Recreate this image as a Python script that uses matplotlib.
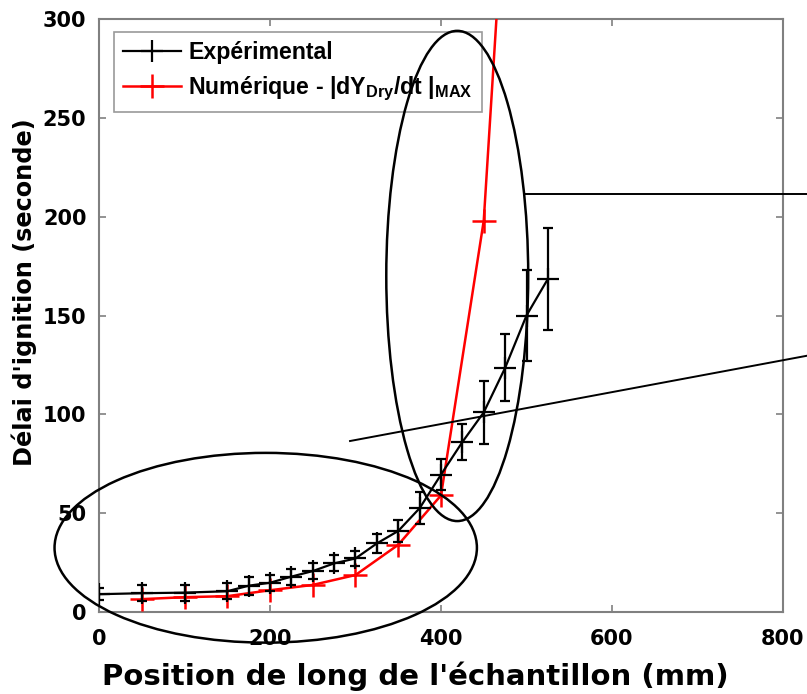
import matplotlib
matplotlib.use("Agg")
import matplotlib.pyplot as plt
from matplotlib.patches import Ellipse

plt.rcParams['font.family'] = ['DejaVu Sans']
plt.rcParams['font.weight'] = 'bold'
plt.rcParams['mathtext.fontset'] = 'custom'
plt.rcParams['mathtext.rm'] = 'Liberation Sans:bold'
plt.rcParams['mathtext.it'] = 'Liberation Sans:bold'
plt.rcParams['mathtext.bf'] = 'Liberation Sans:bold'

# experimental data (position in mm, delay in s, error)
x_exp = [0, 50, 100, 150, 175, 200, 225, 250, 275, 300, 325, 350, 375, 400, 425, 450, 475, 500, 525]
y_exp = [9, 9.5, 9.8, 10.5, 13.3, 14.8, 17.9, 20.7, 24.6, 27.1, 34.7, 41, 52.5, 69.5, 86, 101, 123.5, 150, 168.5]
err_exp = [3, 4, 4, 4, 4.5, 4, 4, 4, 4, 4, 5, 5.5, 8, 8, 9.3, 16, 17, 23, 26]

# numerical data
x_num = [50, 100, 150, 200, 250, 300, 350, 400, 450, 475]
y_num = [6.5, 7.5, 8, 11, 13.7, 18.7, 34, 59, 198, 370]

fig = plt.figure(figsize=(8.07, 6.94), dpi=100)
ax = fig.add_axes([99/807, 1-612/694, 684/807, 593/694])

num_line, = ax.plot(x_num, y_num, color='red', lw=1.8, marker='+', ms=17, mew=1.8, zorder=3)
eb = ax.errorbar(x_exp, y_exp, yerr=err_exp, color='black', lw=1.6, marker='+', ms=16, mew=1.6,
                 capsize=3.6, capthick=1.6, elinewidth=1.6, zorder=4)

ax.set_xlim(0, 800)
ax.set_ylim(0, 300)
ax.set_xticks([0, 200, 400, 600, 800])
ax.set_yticks([0, 50, 100, 150, 200, 250, 300])
for s in ax.spines.values():
    s.set_color('#808080')
    s.set_linewidth(1.5)
ax.tick_params(direction='in', length=5, width=1.2, color='#808080', top=True, right=True,
               labelsize=15)
ax.tick_params(axis='x', pad=12)
ax.tick_params(axis='y', pad=9)
for t in ax.get_xticklabels() + ax.get_yticklabels():
    t.set_fontweight('bold')

ax.set_xlabel("Position de long de l'échantillon (mm)", fontsize=21, fontweight='bold')
ax.xaxis.set_label_coords(0.462, -0.083)
ax.xaxis.label.set_va('top')
ax.set_ylabel("Délai d'ignition (seconde)", fontsize=17.3, fontweight='bold')
ax.yaxis.set_label_coords(-0.09, 0.54)

leg = ax.legend([eb.lines[0], num_line],
                ['Expérimental', r'Numérique - |dY$_{\mathrm{Dry}}$/dt |$_{\mathrm{MAX}}$'],
                loc='upper left', bbox_to_anchor=(0.022, 0.978), frameon=True,
                prop={'family': 'Liberation Sans', 'weight': 'bold', 'size': 16.7},
                fancybox=False, edgecolor='#808080', handlelength=2.5, handletextpad=0.3,
                borderpad=0.4, labelspacing=0.45, borderaxespad=0)
leg.get_frame().set_linewidth(1.2)
leg.set_zorder(4.5)

# annotation ellipses and pointer lines
ax.add_patch(Ellipse((195, 32.5), 494, 96, fill=False, ec='black', lw=1.8, clip_on=False, zorder=6))
ax.add_patch(Ellipse((419, 170), 166, 248, fill=False, ec='black', lw=1.8, clip_on=False, zorder=6))
ax.plot([497, 830], [211.4, 211.4], color='black', lw=1.4, clip_on=False, zorder=6)
ax.plot([293.6, 830], [86.5, 129.8], color='black', lw=1.4, clip_on=False, zorder=6)

fig.savefig('out.png', dpi=100)
